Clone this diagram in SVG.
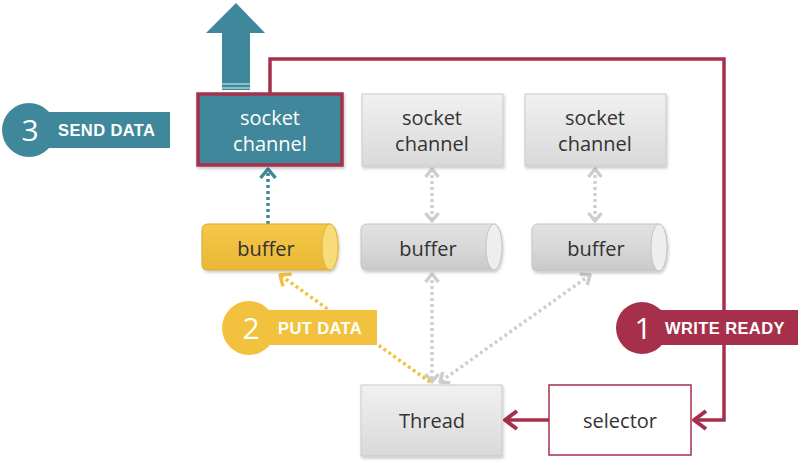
<svg xmlns="http://www.w3.org/2000/svg" width="800" height="467" viewBox="0 0 800 467">
  <defs>
    <linearGradient id="grayBox" x1="0" y1="0" x2="0" y2="1">
      <stop offset="0" stop-color="#f1f1f1"/>
      <stop offset="1" stop-color="#d9d9d9"/>
    </linearGradient>
    <linearGradient id="grayTube" x1="0" y1="0" x2="0" y2="1">
      <stop offset="0" stop-color="#e2e2e2"/>
      <stop offset="0.5" stop-color="#d8d8d8"/>
      <stop offset="1" stop-color="#c9c9c9"/>
    </linearGradient>
    <linearGradient id="yellowTube" x1="0" y1="0" x2="0" y2="1">
      <stop offset="0" stop-color="#f4c84a"/>
      <stop offset="1" stop-color="#eab734"/>
    </linearGradient>
    <filter id="shadow" x="-10%" y="-10%" width="125%" height="130%">
      <feDropShadow dx="1" dy="2" stdDeviation="1.5" flood-color="#000" flood-opacity="0.22"/>
    </filter>
    <!-- chevron heads: tip at +x of the marker box -->
    <marker id="headGray" viewBox="0 0 16 16" refX="12" refY="8" markerWidth="16" markerHeight="16" markerUnits="userSpaceOnUse" orient="auto-start-reverse">
      <polyline points="4,1.5 12,8 4,14.5" fill="none" stroke="#cdcdcd" stroke-width="3.5" stroke-linejoin="round"/>
    </marker>
    <marker id="headTeal" viewBox="0 0 18 18" refX="13" refY="9" markerWidth="18" markerHeight="18" markerUnits="userSpaceOnUse" orient="auto">
      <polyline points="4,1.5 13,9 4,16.5" fill="none" stroke="#3f879b" stroke-width="3.5" stroke-linejoin="round"/>
    </marker>
    <marker id="headYellow" viewBox="0 0 18 18" refX="13" refY="9" markerWidth="18" markerHeight="18" markerUnits="userSpaceOnUse" orient="auto">
      <polyline points="4,1.5 13,9 4,16.5" fill="none" stroke="#f2c23e" stroke-width="3.5" stroke-linejoin="round"/>
    </marker>
    <marker id="headRed" viewBox="0 0 22 22" refX="17" refY="11" markerWidth="22" markerHeight="22" markerUnits="userSpaceOnUse" orient="auto">
      <polyline points="5,2 17,11 5,20" fill="none" stroke="#a6304c" stroke-width="4" stroke-linejoin="round"/>
    </marker>
    <style>
      .node { font-family: "Open Sans", "DejaVu Sans", sans-serif; font-size: 20px; fill: #333; text-anchor: middle; }
      .nodeW { font-family: "Open Sans", "DejaVu Sans", sans-serif; font-size: 20px; fill: #ffffff; text-anchor: middle; }
      .gbox { fill: url(#grayBox); stroke: #c9c9c9; stroke-width: 1; filter: url(#shadow); }
      .num { font-family: "Open Sans", "DejaVu Sans", sans-serif; font-size: 30px; fill: #fff; text-anchor: middle; }
      .tag { font-family: "Liberation Sans", Arial, sans-serif; font-weight: bold; font-size: 16.5px; letter-spacing: 0.4px; fill: #fff; }
      .dotGray { fill: none; stroke: #cfcfcf; stroke-width: 3.5; stroke-dasharray: 3 3; }
      .red { fill: none; stroke: #a6304c; stroke-width: 3.5; }
    </style>
  </defs>

  <!-- outgoing data arrow above the active socket channel -->
  <g id="send-arrow">
    <path d="M236,3 L265,33 L250,33 L250,90 L222,90 L222,33 L206,33 Z" fill="#3f879b"/>
    <line x1="222" y1="84" x2="250" y2="84" stroke="#a8d0da" stroke-width="1.5"/>
    <line x1="222" y1="88" x2="250" y2="88" stroke="#a8d0da" stroke-width="1.5"/>
  </g>

  <!-- connectors -->
  <g id="connectors">
    <!-- write-ready loop from socket channel to selector -->
    <polyline class="red" points="270,93 270,59 724,59 724,420 694,420" marker-end="url(#headRed)"/>
    <!-- selector to thread -->
    <line class="red" x1="549" y1="420" x2="505" y2="420" marker-end="url(#headRed)"/>
    <!-- buffer to socket channel (send) -->
    <line x1="268" y1="224" x2="268" y2="169" stroke="#3f879b" stroke-width="3.5" stroke-dasharray="3 3" marker-end="url(#headTeal)"/>
    <!-- idle socket channel / buffer links -->
    <line class="dotGray" x1="432" y1="169" x2="432" y2="221" marker-start="url(#headGray)" marker-end="url(#headGray)"/>
    <line class="dotGray" x1="595" y1="169" x2="595" y2="221" marker-start="url(#headGray)" marker-end="url(#headGray)"/>
    <!-- thread to buffers -->
    <line class="dotGray" x1="432" y1="274" x2="432" y2="382" marker-start="url(#headGray)" marker-end="url(#headGray)"/>
    <line class="dotGray" x1="590" y1="275" x2="440" y2="382" marker-start="url(#headGray)" marker-end="url(#headGray)"/>
    <!-- thread puts data into buffer -->
    <line x1="430" y1="382" x2="280" y2="275" stroke="#f2c23e" stroke-width="3.5" stroke-dasharray="3 3" marker-end="url(#headYellow)"/>
  </g>

  <!-- socket channels -->
  <g id="socket-channel-1">
    <rect x="198" y="94" width="144" height="71" fill="#3f879b" stroke="#a6304c" stroke-width="3.5" filter="url(#shadow)"/>
    <text class="nodeW" x="270" y="125">socket</text>
    <text class="nodeW" x="270" y="151">channel</text>
  </g>
  <g id="socket-channel-2">
    <rect class="gbox" x="362" y="94" width="141" height="72"/>
    <text class="node" x="432" y="125">socket</text>
    <text class="node" x="432" y="151">channel</text>
  </g>
  <g id="socket-channel-3">
    <rect class="gbox" x="525" y="94" width="141" height="72"/>
    <text class="node" x="595" y="125">socket</text>
    <text class="node" x="595" y="151">channel</text>
  </g>

  <!-- buffers -->
  <g id="buffer-1">
    <path d="M208,224 H330 A8,23 0 0 1 330,270 H208 Q202,270 202,264 V230 Q202,224 208,224 Z" fill="url(#yellowTube)" stroke="#d9a92c" stroke-width="1" filter="url(#shadow)"/>
    <ellipse cx="330" cy="247" rx="8" ry="23" fill="#f8dc7a" stroke="#e3b53a" stroke-width="1"/>
    <text class="node" x="266" y="256">buffer</text>
  </g>
  <g id="buffer-2">
    <path d="M367,224 H494 A8,23 0 0 1 494,270 H367 Q361,270 361,264 V230 Q361,224 367,224 Z" fill="url(#grayTube)" stroke="#c4c4c4" stroke-width="1" filter="url(#shadow)"/>
    <ellipse cx="494" cy="247" rx="8" ry="23" fill="#eeeeee" stroke="#c4c4c4" stroke-width="1"/>
    <text class="node" x="428" y="256">buffer</text>
  </g>
  <g id="buffer-3">
    <path d="M538,224 H659 A8,23 0 0 1 659,271 H538 Q532,271 532,265 V230 Q532,224 538,224 Z" fill="url(#grayTube)" stroke="#c4c4c4" stroke-width="1" filter="url(#shadow)"/>
    <ellipse cx="659" cy="247.5" rx="8" ry="23.5" fill="#eeeeee" stroke="#c4c4c4" stroke-width="1"/>
    <text class="node" x="596" y="256">buffer</text>
  </g>

  <!-- thread and selector -->
  <g id="thread">
    <rect class="gbox" x="361" y="385" width="141" height="71"/>
    <text class="node" x="432" y="428">Thread</text>
  </g>
  <g id="selector">
    <rect x="549" y="385" width="142" height="70" fill="#ffffff" stroke="#a6304c" stroke-width="1.5"/>
    <text class="node" x="620" y="428">selector</text>
  </g>

  <!-- step labels -->
  <g id="label-send-data">
    <rect x="28" y="112" width="142" height="36" fill="#3f879b"/>
    <circle cx="29" cy="130" r="27" fill="#3f879b"/>
    <text class="num" x="30" y="141">3</text>
    <text class="tag" x="58" y="136">SEND DATA</text>
  </g>
  <g id="label-put-data">
    <rect x="250" y="310" width="127" height="35" fill="#f2c23e"/>
    <circle cx="249" cy="328" r="27" fill="#f2c23e"/>
    <text class="num" x="251" y="339">2</text>
    <text class="tag" x="278" y="334">PUT DATA</text>
  </g>
  <g id="label-write-ready">
    <rect x="642" y="310" width="156" height="35" fill="#a6304c"/>
    <circle cx="642" cy="328" r="26" fill="#a6304c"/>
    <text class="num" x="643" y="339">1</text>
    <text class="tag" x="665" y="334">WRITE READY</text>
  </g>
</svg>
